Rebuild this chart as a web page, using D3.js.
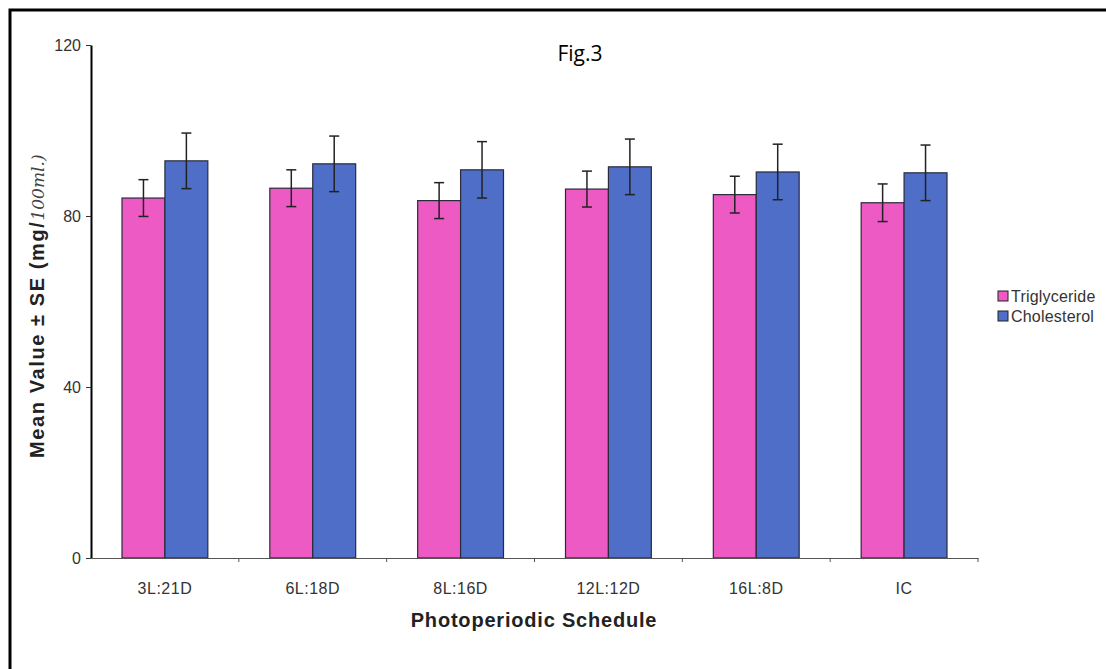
<!DOCTYPE html>
<html>
<head>
<meta charset="utf-8">
<script src="https://cdn.jsdelivr.net/npm/d3@7"></script>
<style>
  body { margin: 0; background: #fff; }
  svg { display: block; }
</style>
</head>
<body>
<div id="chart"></div>
<script>
// data
const schedules = ['3L:21D', '6L:18D', '8L:16D', '12L:12D', '16L:8D', 'IC'];
const seriesNames = ['Triglyceride', 'Cholesterol'];
const trigMean = [84.2, 86.5, 83.6, 86.3, 85.0, 83.1];
const trigSE = [4.3, 4.3, 4.2, 4.2, 4.3, 4.4];
const cholMean = [92.9, 92.2, 90.8, 91.5, 90.3, 90.1];
const cholSE = [6.5, 6.5, 6.6, 6.5, 6.5, 6.5];
const yTicks = [0, 40, 80, 120];

const colors = ['#ee5ac4', '#4e6ec8'];

const W = 1106, H = 669;
const margin = { top: 45, left: 91, right: 130, bottom: 111 };
const plotW = 978 - margin.left;
const plotH = H - margin.top - margin.bottom;

const svg = d3.select('#chart')
  .append('svg')
  .attr('width', W)
  .attr('height', H);

// scanned page frame (only top and left edge show)
svg.append('rect')
  .attr('x', 10).attr('y', 10)
  .attr('width', 1200).attr('height', 800)
  .attr('fill', 'none')
  .attr('stroke', '#000')
  .attr('stroke-width', 3);

const g = svg.append('g')
  .attr('transform', `translate(${margin.left}, ${margin.top})`);

const x = d3.scaleBand()
  .domain(schedules)
  .range([0, plotW]);

const inner = d3.scaleBand()
  .domain(seriesNames)
  .range([31, x.bandwidth() - 31]);

const y = d3.scaleLinear()
  .domain([0, 120])
  .range([plotH, 0]);

const rows = schedules.map((s, i) => ({
  schedule: s,
  values: [
    { name: seriesNames[0], mean: trigMean[i], se: trigSE[i], color: colors[0] },
    { name: seriesNames[1], mean: cholMean[i], se: cholSE[i], color: colors[1] }
  ]
}));

// bars
const groups = g.selectAll('.grp')
  .data(rows)
  .enter()
  .append('g')
  .attr('transform', d => `translate(${x(d.schedule)}, 0)`);

groups.selectAll('rect')
  .data(d => d.values)
  .enter()
  .append('rect')
  .attr('x', d => inner(d.name))
  .attr('y', d => y(d.mean))
  .attr('width', inner.bandwidth())
  .attr('height', d => plotH - y(d.mean))
  .attr('fill', d => d.color)
  .attr('stroke', '#2a2a3a')
  .attr('stroke-width', 1.2);

// error bars
const err = groups.selectAll('.err')
  .data(d => d.values)
  .enter()
  .append('g')
  .attr('stroke', '#222')
  .attr('stroke-width', 1.5);

const cx = d => inner(d.name) + inner.bandwidth() / 2;
err.append('line')
  .attr('x1', cx).attr('x2', cx)
  .attr('y1', d => y(d.mean + d.se))
  .attr('y2', d => y(d.mean - d.se));
err.append('line')
  .attr('x1', d => cx(d) - 5).attr('x2', d => cx(d) + 5)
  .attr('y1', d => y(d.mean + d.se)).attr('y2', d => y(d.mean + d.se));
err.append('line')
  .attr('x1', d => cx(d) - 5).attr('x2', d => cx(d) + 5)
  .attr('y1', d => y(d.mean - d.se)).attr('y2', d => y(d.mean - d.se));

// y axis
const yAxis = g.append('g')
  .call(d3.axisLeft(y).tickValues(yTicks).tickSize(5).tickSizeOuter(0));
yAxis.select('.domain').attr('stroke', '#000').attr('stroke-width', 2);
yAxis.selectAll('.tick line').attr('stroke', '#333');
yAxis.selectAll('text')
  .attr('font-family', 'Liberation Sans, Arial, sans-serif')
  .attr('font-size', 16)
  .attr('fill', '#333')
  .attr('dx', -2);

// x axis
const xAxis = g.append('g')
  .attr('transform', `translate(0, ${plotH})`)
  .call(d3.axisBottom(x).tickSize(0).tickPadding(25).tickSizeOuter(0));
xAxis.select('.domain').attr('stroke', '#555').attr('stroke-width', 1.2);
xAxis.selectAll('text')
  .attr('font-family', 'Liberation Sans, Arial, sans-serif')
  .attr('font-size', 16)
  .attr('letter-spacing', 0.5)
  .attr('fill', '#333');

// boundary ticks between categories
g.append('g')
  .selectAll('line')
  .data(schedules)
  .enter()
  .append('line')
  .attr('x1', d => x(d) + x.bandwidth())
  .attr('x2', d => x(d) + x.bandwidth())
  .attr('y1', plotH)
  .attr('y2', plotH + 4)
  .attr('stroke', '#555');

// axis titles
svg.append('text')
  .attr('x', 534)
  .attr('y', 627)
  .attr('text-anchor', 'middle')
  .attr('font-family', 'Liberation Sans, Arial, sans-serif')
  .attr('font-weight', 'bold')
  .attr('font-size', 20)
  .attr('letter-spacing', 0.8)
  .attr('fill', '#222')
  .text('Photoperiodic Schedule');

const yTitle = svg.append('text')
  .attr('transform', 'translate(44, 458) rotate(-90)')
  .attr('text-anchor', 'start')
  .attr('font-family', 'Liberation Sans, Arial, sans-serif')
  .attr('font-size', 20)
  .attr('fill', '#222');
yTitle.append('tspan')
  .attr('font-weight', 'bold')
  .attr('letter-spacing', 1.6)
  .text('Mean Value ± SE (mg/');
yTitle.append('tspan')
  .attr('font-style', 'italic')
  .attr('font-family', 'DejaVu Serif, serif')
  .attr('font-size', 17)
  .attr('fill', '#444')
  .text('100ml.)');

// title
svg.append('text')
  .attr('x', 580)
  .attr('y', 61)
  .attr('text-anchor', 'middle')
  .attr('font-family', 'Open Sans, Liberation Sans, sans-serif')
  .attr('font-size', 21)
  .attr('fill', '#000')
  .text('Fig.3');

// legend
const legend = svg.append('g')
  .attr('transform', 'translate(998, 291)');
seriesNames.forEach((name, i) => {
  legend.append('rect')
    .attr('x', 0)
    .attr('y', i * 20)
    .attr('width', 10)
    .attr('height', 10)
    .attr('fill', colors[i])
    .attr('stroke', '#222');
  legend.append('text')
    .attr('x', 13)
    .attr('y', i * 20 + 11)
    .attr('font-family', 'Liberation Sans, Arial, sans-serif')
    .attr('font-size', 16)
    .attr('letter-spacing', 0.2)
    .attr('fill', '#333')
    .text(name);
});
</script>
</body>
</html>
